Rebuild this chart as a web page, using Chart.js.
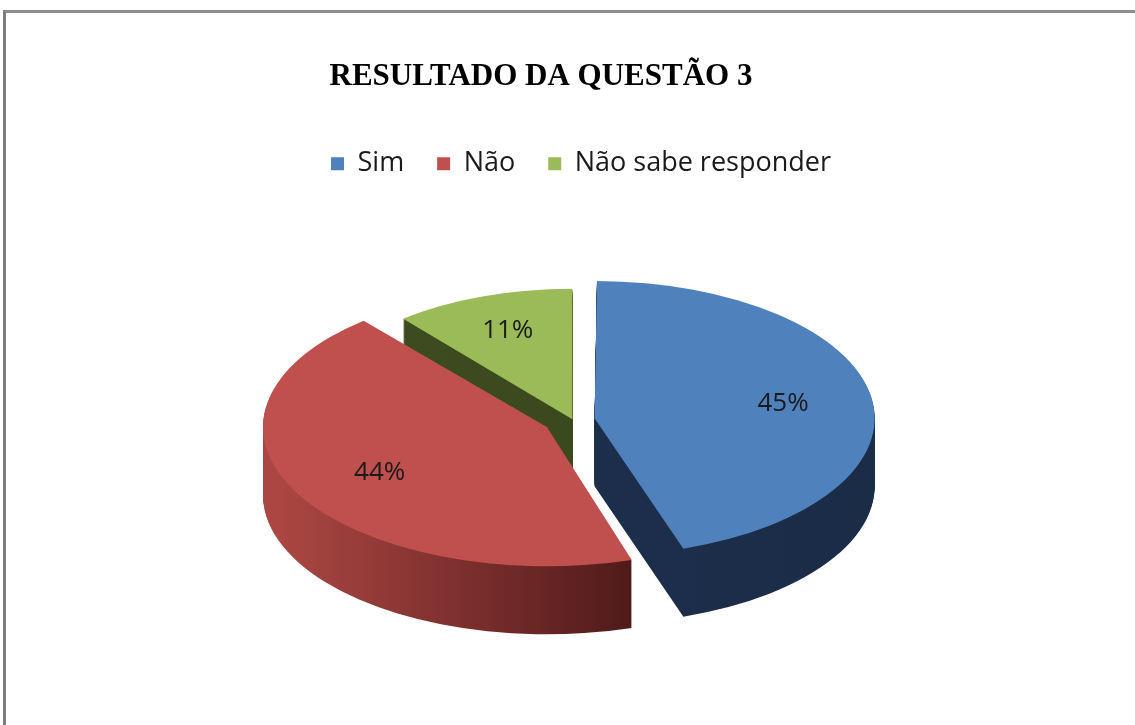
<!DOCTYPE html>
<html><head><meta charset="utf-8">
<script src="https://cdn.jsdelivr.net/npm/chart.js@4/dist/chart.umd.min.js"></script>
<style>
html,body{margin:0;padding:0;background:#fff;overflow:hidden;}
#frame{position:absolute;left:3px;top:10px;width:1300px;height:900px;border-left:3px solid #7d7d7d;border-top:3px solid #8c8c8c;box-sizing:border-box;}
#c{position:absolute;left:0;top:0;}
</style></head><body>
<div id="frame"></div>
<canvas id="c" width="1135" height="725"></canvas>
<script>
const chartTitle = 'RESULTADO DA QUESTÃO 3';
const categories = ['Sim', 'Não', 'Não sabe responder'];
const percentValues = [45, 44, 11];
const valueLabels = ['45%', '44%', '11%'];
const topColors = ['#4f81bd', '#c0504d', '#9bbb59'];
const explodeOffsets = [71, 97, 6];
const sideStops = [
  [[0, '#1d3150'], [1, '#1b2c47']],
  [[0, '#ab4642'], [0.68, '#4d1919'], [1, '#4d1919']],
  [[0, '#3e4d20'], [1, '#38461c']]
];

const pie3d = {
  id: 'pie3d',
  beforeDatasetsDraw(chart, args, o) {
    const ctx = chart.ctx;
    const arcs = chart.getDatasetMeta(0).data;
    if (!arcs.length) return;
    const a0 = arcs[0];
    const R0 = a0.outerRadius, x0 = a0.x, y0 = a0.y;
    const sx = o.rx / R0, sy = o.ry / R0;
    const apply = (dy) => { ctx.translate(o.cx, o.cy + dy); ctx.scale(sx, sy); ctx.translate(-x0, -y0); };
    const grads = sideStops.map(stops => {
      const g = ctx.createLinearGradient(x0 - R0, 0, x0 + R0, 0);
      stops.forEach(([p, c]) => g.addColorStop(p, c));
      return g;
    });
    for (let d = o.depth; d >= 1; d -= 1) {
      arcs.forEach((arc, i) => {
        ctx.save(); apply(d);
        const f = Object.create(arc);
        f.options = Object.assign({}, arc.options, {backgroundColor: grads[i], borderWidth: 0});
        arc.draw.call(f, ctx);
        ctx.restore();
      });
    }
    ctx.save(); apply(0);
  },
  afterDatasetsDraw(chart, args, o) {
    const ctx = chart.ctx;
    ctx.restore();
    const arcs = chart.getDatasetMeta(0).data;
    if (!arcs.length) return;
    const a0 = arcs[0];
    const R0 = a0.outerRadius, x0 = a0.x, y0 = a0.y;
    const sx = o.rx / R0, sy = o.ry / R0;
    ctx.save();
    ctx.font = o.labelFont;
    ctx.fillStyle = o.labelColor;
    ctx.textAlign = 'center';
    ctx.textBaseline = 'middle';
    arcs.forEach((arc, i) => {
      const mid = (arc.startAngle + arc.endAngle) / 2;
      const r = o.labelRadius * arc.outerRadius + (arc.options.offset || 0) / 4;
      const lx = arc.x + Math.cos(mid) * r, ly = arc.y + Math.sin(mid) * r;
      ctx.fillText(valueLabels[i], o.cx + (lx - x0) * sx, o.cy + (ly - y0) * sy);
    });
    ctx.restore();
  },
  afterLayout(chart, args, o) {
    if (chart.titleBlock) {
      chart.titleBlock.left += o.titleShift;
      chart.titleBlock.right += o.titleShift;
    }
  }
};

new Chart(document.getElementById('c'), {
  type: 'pie',
  data: {
    labels: categories,
    datasets: [{
      data: percentValues,
      backgroundColor: topColors,
      borderWidth: 0,
      offset: explodeOffsets
    }]
  },
  plugins: [pie3d],
  options: {
    responsive: false,
    devicePixelRatio: 1,
    animation: false,
    layout: {padding: {left: 27, right: 0, top: 0, bottom: 10}},
    plugins: {
      title: {
        display: true,
        text: chartTitle,
        color: '#000',
        font: {family: '"Liberation Serif", "Times New Roman", serif', size: 31, weight: 'bold'},
        padding: {top: 58, bottom: 22}
      },
      legend: {
        position: 'top',
        labels: {
          boxWidth: 13, boxHeight: 13, padding: 33,
          color: '#1a1a1a',
          font: {family: '"Open Sans", sans-serif', size: 27}
        }
      },
      tooltip: {enabled: false},
      pie3d: {
        cx: 573, cy: 420, rx: 265, ry: 130, depth: 68,
        labelRadius: 0.72,
        labelFont: '26px "Open Sans", sans-serif',
        labelColor: '#1a1a1a',
        titleShift: -40
      }
    }
  }
});
</script>
</body></html>
